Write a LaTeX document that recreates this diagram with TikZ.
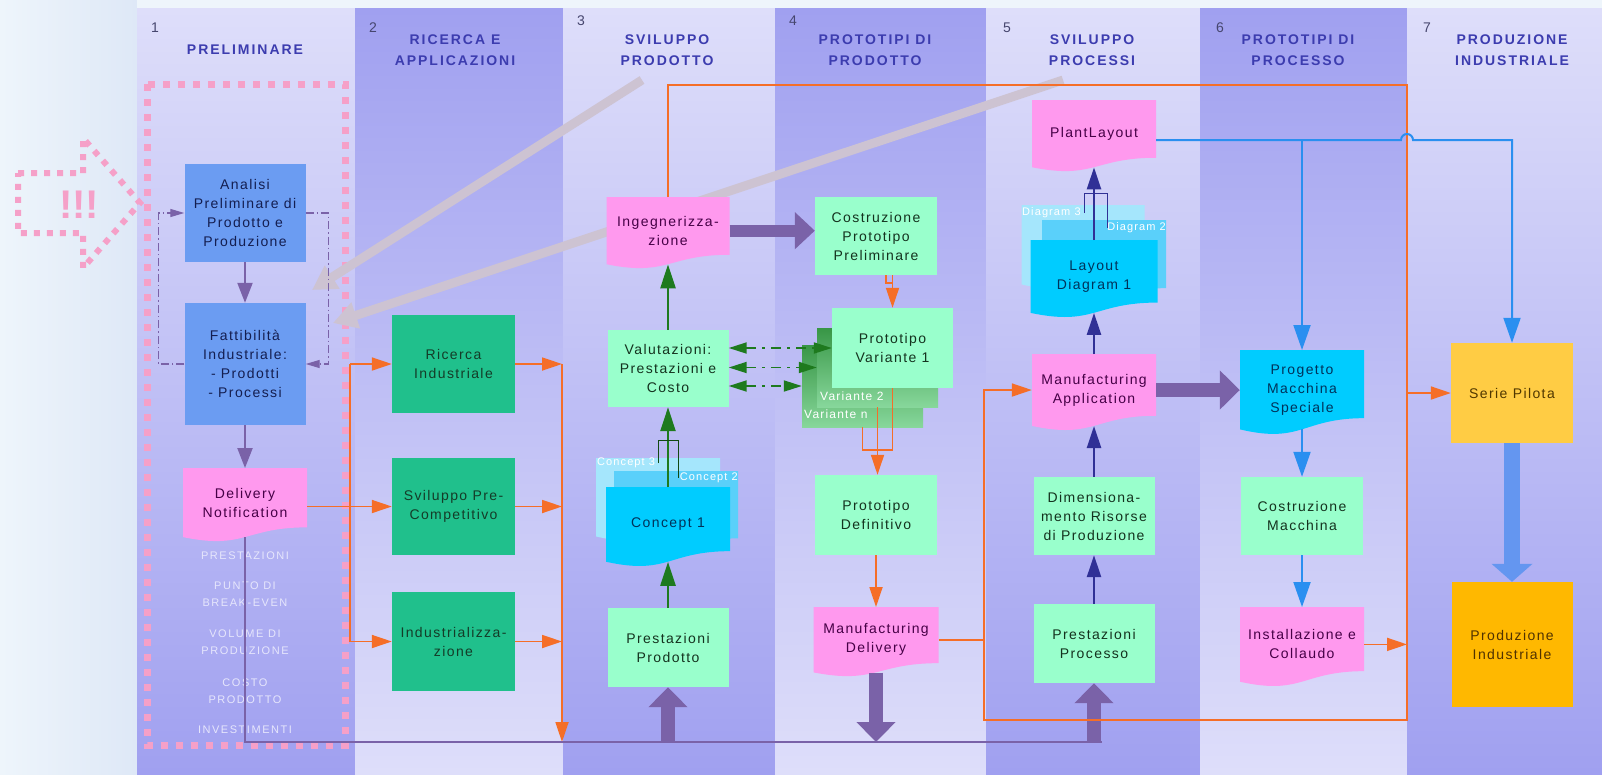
\documentclass[tikz,border=0pt]{standalone}
\usepackage{fontspec}
\setmainfont{Liberation Sans}
\newfontfamily\boxfont{Liberation Sans}[LetterSpace=10]
\newfontfamily\headfont{Liberation Sans}[LetterSpace=14]
\usepackage{tikz}
\usetikzlibrary{arrows.meta,calc}

\definecolor{lightcol}{RGB}{222,222,250}
\definecolor{darkcol}{RGB}{160,160,240}
\definecolor{marginL}{RGB}{238,245,251}
\definecolor{marginR}{RGB}{222,232,247}
\definecolor{headblue}{RGB}{60,60,175}
\definecolor{numgray}{RGB}{70,70,110}
\definecolor{bluefill}{RGB}{107,156,242}
\definecolor{greenfill}{RGB}{32,192,140}
\definecolor{mintfill}{RGB}{153,255,204}
\definecolor{pinkfill}{RGB}{255,153,238}
\definecolor{cyanfill}{RGB}{0,204,255}
\definecolor{yellowfill}{RGB}{255,204,68}
\definecolor{amberfill}{RGB}{255,184,0}
\definecolor{orngcol}{RGB}{245,110,40}
\definecolor{purpcol}{RGB}{122,98,168}
\definecolor{navycol}{RGB}{48,48,150}
\definecolor{skycol}{RGB}{42,143,240}
\definecolor{fatskycol}{RGB}{100,150,240}
\definecolor{leafcol}{RGB}{30,122,30}
\definecolor{pinkdot}{RGB}{245,160,200}
\definecolor{graycol}{RGB}{205,195,210}
\definecolor{listcol}{RGB}{230,230,252}

% document shape: name, centre x, top y, width, height, style, text
\newcommand\docnode[7]{%
  \fill[#6] (#2-#4/2,#3) -- (#2+#4/2,#3) -- (#2+#4/2,#3+0.802*#5)
    .. controls (#2,#3+0.802*#5) and (#2,#3+1.107*#5) .. (#2-#4/2,#3+0.934*#5) -- cycle;
  \node[#6, fill=none, stagebox, minimum width=#4pt, minimum height=0.93*#5pt, anchor=north] (#1) at (#2,#3) {#7};
}

\begin{document}
\begin{tikzpicture}[x=1pt, y=-1pt,
  stagebox/.style={align=center, inner sep=1pt, font=\boxfont\fontsize{14}{19}\selectfont},
  bluebox/.style={stagebox, fill=bluefill, text={rgb,255:red,20;green,30;blue,80}, minimum width=121pt},
  greenbox/.style={stagebox, fill=greenfill, text={rgb,255:red,20;green,60;blue,40}, minimum width=123pt},
  mintbox/.style={stagebox, fill=mintfill, text={rgb,255:red,20;green,50;blue,30}, minimum width=121pt},
  yellowbox/.style={stagebox, fill=yellowfill, text={rgb,255:red,80;green,55;blue,0}},
  amberbox/.style={stagebox, fill=amberfill, text={rgb,255:red,80;green,50;blue,0}},
  variantbox/.style={minimum width=121pt, top color={rgb,255:red,56;green,150;blue,70}, bottom color={rgb,255:red,135;green,215;blue,155}},
  pinkdoc/.style={fill=pinkfill, text={rgb,255:red,70;green,0;blue,70}},
  cyandoc/.style={fill=cyanfill, text={rgb,255:red,0;green,50;blue,90}},
  ghostdoc/.style={fill={rgb,255:red,165;green,230;blue,252}},
  ghostdocb/.style={fill={rgb,255:red,90;green,208;blue,250}},
  ghostlabel/.style={text=white, inner sep=0pt, font=\boxfont\fontsize{11}{13}\selectfont},
  numlabel/.style={text=numgray, font=\fontsize{14}{16}\selectfont},
  headlabel/.style={text=headblue, align=center, font=\headfont\bfseries\fontsize{14}{21}\selectfont},
  listlabel/.style={text=listcol, align=center, font=\headfont\fontsize{11}{17}\selectfont},
  pinkdots/.style={draw=pinkdot, line width=7pt, dash pattern=on 7pt off 8pt},
  orng/.style={draw=orngcol, line width=1.8pt},
  orngarrow/.style={orng, -{Triangle[length=20pt,width=13pt]}},
  purpline/.style={draw=purpcol, line width=1.6pt},
  purparrow/.style={draw=purpcol, line width=2.2pt, -{Triangle[length=20pt,width=15pt]}},
  ddline/.style={draw=purpcol, line width=1.2pt, dash pattern=on 8pt off 3pt on 1.5pt off 3pt, -{Triangle[length=14pt,width=8pt]}},
  fatpurp/.style={draw=purpcol, line width=14pt, -{Triangle[length=20pt,width=38pt]}},
  leafarrow/.style={draw=leafcol, line width=2.5pt, -{Triangle[length=24pt,width=15pt]}},
  leafthin/.style={draw=leafcol!60!black, line width=1pt},
  gdash/.style={draw=leafcol, line width=1.8pt, dash pattern=on 10pt off 6pt on 3pt off 6pt, {Triangle[length=18pt,width=11pt]}-{Triangle[length=18pt,width=11pt]}},
  navyarrow/.style={draw=navycol, line width=2.5pt, -{Triangle[length=22pt,width=14pt]}},
  navythin/.style={draw=navycol, line width=1pt},
  skyline/.style={draw=skycol, line width=2pt},
  skyarrow/.style={skyline, -{Triangle[length=25pt,width=17pt]}},
  fatsky/.style={draw=fatskycol, line width=16pt, -{Triangle[length=18pt,width=40pt]}},
  grayarrow/.style={draw=graycol, line width=9pt, -{Triangle[length=24pt,width=26pt]}}
]
\useasboundingbox (0,0) rectangle (1602,774);

% background
\shade[left color=marginL, right color=marginR] (0,0) rectangle (137,774);
\fill[marginL] (137,0) rectangle (1602,8);
\foreach \xa/\xb/\ctop/\cbot in {137/355/lightcol/darkcol, 355/563/darkcol/lightcol, 563/775/lightcol/darkcol,
  775/986/darkcol/lightcol, 986/1200/lightcol/darkcol, 1200/1407/darkcol/lightcol, 1407/1602/lightcol/darkcol}
  \shade[top color=\ctop, bottom color=\cbot] (\xa,8) rectangle (\xb,774);

% column headers
\foreach \n/\xn/\yn/\xc/\ttl in {1/155/28/245/PRELIMINARE, 2/373/28/455/{RICERCA E\\APPLICAZIONI},
  3/581/21/667/{SVILUPPO\\PRODOTTO}, 4/793/21/875/{PROTOTIPI DI\\PRODOTTO}, 5/1007/28/1092/{SVILUPPO\\PROCESSI},
  6/1220/28/1298/{PROTOTIPI DI\\PROCESSO}, 7/1427/28/1512/{PRODUZIONE\\INDUSTRIALE}}
{
  \node[numlabel] (num\n) at (\xn,\yn) {\n};
  \node[headlabel] (head\n) at (\xc,50) {\ttl};
}

% pink frame and pointer
\draw[pinkdots] (147,84) rectangle (345,745);
\draw[pinkdots, line width=6pt, dash pattern=on 6pt off 7pt] (18,173) -- (83,173) -- (83,138) -- (140,203)
  -- (83,268) -- (83,233) -- (18,233) -- cycle;
\node[text=pinkdot, font=\bfseries\fontsize{40}{40}\selectfont] (bang) at (79,205) {!!!};

% grey pointers
\coordinate (g1s) at (642,80);  \coordinate (g1e) at (312,290);
\coordinate (g2s) at (1063,80); \coordinate (g2e) at (333,323);
\draw[grayarrow] (g1s) -- (g1e);
\draw[grayarrow] (g2s) -- (g2e);

% column 1
\node[bluebox, minimum height=98pt] (anal) at (245,213) {Analisi\\Preliminare di\\Prodotto e\\Produzione};
\node[bluebox, minimum height=122pt] (fatt) at (245,364) {Fattibilità\\Industriale:\\- Prodotti\\- Processi};
\docnode{deliv}{245}{468}{124}{74}{pinkdoc}{Delivery\\Notification}
\node[listlabel] (lst1) at (245,556) {PRESTAZIONI};
\node[listlabel] (lst2) at (245,594.5) {PUNTO DI\\BREAK-EVEN};
\node[listlabel] (lst3) at (245,642.5) {VOLUME DI\\PRODUZIONE};
\node[listlabel] (lst4) at (245,691) {COSTO\\PRODOTTO};
\node[listlabel] (lst5) at (245,730) {INVESTIMENTI};

% column 2
\node[greenbox, minimum height=98pt] (ricer) at (453.5,364) {Ricerca\\Industriale};
\node[greenbox, minimum height=97pt] (svil) at (453.5,506.5) {Sviluppo Pre-\\Competitivo};
\node[greenbox, minimum height=99pt] (indus) at (453.5,641.5) {Industrializza-\\zione};

% column 3
\docnode{inge}{668}{197}{123}{72}{pinkdoc}{Ingegnerizza-\\zione}
\node[mintbox, minimum height=77pt] (valut) at (668,368.5) {Valutazioni:\\Prestazioni e\\Costo};
\docnode{conc3}{658}{458}{124}{84}{ghostdoc}{}
\docnode{conc2}{676}{471}{124}{84}{ghostdocb}{}
\docnode{conc1}{668}{487}{124}{80}{cyandoc}{Concept 1}
\node[ghostlabel, anchor=west] (lblc3) at (597,463) {Concept 3};
\node[ghostlabel, anchor=east] (lblc2) at (738,478) {Concept 2};
\node[mintbox, minimum height=79pt] (prestpr) at (668,647.5) {Prestazioni\\Prodotto};

% column 4
\node[mintbox, minimum width=122pt, minimum height=78pt] (costr) at (876,236) {Costruzione\\Prototipo\\Preliminare};
\node[variantbox, minimum height=82pt] (varn) at (862.5,386) {};
\node[variantbox, minimum height=79pt] (var2) at (877.5,367.5) {};
\node[mintbox, minimum height=80pt] (var1) at (892.5,348) {Prototipo\\Variante 1};
\node[ghostlabel, anchor=west, font=\boxfont\fontsize{12}{14}\selectfont] (lblv2) at (820,396) {Variante 2};
\node[ghostlabel, anchor=west, font=\boxfont\fontsize{12}{14}\selectfont] (lblvn) at (804,414) {Variante n};
\node[mintbox, minimum width=122pt, minimum height=80pt] (defin) at (876,515) {Prototipo\\Definitivo};
\docnode{mandel}{876}{607}{125}{70}{pinkdoc}{Manufacturing\\Delivery}

% column 5
\docnode{plant}{1094}{100}{124}{72}{pinkdoc}{PlantLayout}
\docnode{diag3}{1083}{205}{123}{85}{ghostdoc}{}
\docnode{diag2}{1104}{220}{124}{85}{ghostdocb}{}
\docnode{layout}{1094}{240}{127}{78}{cyandoc}{Layout\\Diagram 1}
\node[ghostlabel, anchor=west] (lbld3) at (1022,213) {Diagram 3};
\node[ghostlabel, anchor=east] (lbld2) at (1166,228) {Diagram 2};
\docnode{manapp}{1094}{354}{124}{77}{pinkdoc}{Manufacturing\\Application}
\node[mintbox, minimum height=78pt] (dimens) at (1094,516) {Dimensiona-\\mento Risorse\\di Produzione};
\node[mintbox, minimum height=79pt] (prestpc) at (1094,643.5) {Prestazioni\\Processo};

% column 6
\docnode{proget}{1302}{350}{124}{85}{cyandoc}{Progetto\\Macchina\\Speciale}
\node[mintbox, minimum width=122pt, minimum height=78pt] (costrm) at (1302,516) {Costruzione\\Macchina};
\docnode{instal}{1302}{607}{124}{80}{pinkdoc}{Installazione e\\Collaudo}

% column 7
\node[yellowbox, minimum width=122pt, minimum height=100pt] (serie) at (1512,393) {Serie Pilota};
\node[amberbox, minimum width=121pt, minimum height=125pt] (prodind) at (1512,644.5) {Produzione\\Industriale};

% connectors, column 1
\draw[purparrow] (anal.south) -- (fatt.north);
\draw[purparrow] (fatt.south) -- (deliv.north);
\draw[ddline] (fatt.west) -- ++(-26,0) |- (anal.west);
\draw[ddline] (anal.east) -- ++(23,0) |- (fatt.east);

% orange feeds round column 2
\coordinate (feed) at (350,0);
\coordinate (collect) at (562,0);
\coordinate (busL) at (245,742);
\coordinate (busR) at (1102,742);
\draw[orng] (ricer.west -| feed) -- (indus.west -| feed);
\draw[orngarrow] (ricer.west -| feed) -- (ricer.west);
\draw[orngarrow] (indus.west -| feed) -- (indus.west);
\draw[orngarrow] (svil.west -| deliv.east) -- (svil.west);
\draw[orngarrow] (ricer.east) -- (ricer.east -| collect);
\draw[orngarrow] (svil.east) -- (svil.east -| collect);
\draw[orngarrow] (indus.east) -- (indus.east -| collect);
\draw[orngarrow] (ricer.east -| collect) -- (collect |- busL);

% bottom bus
\draw[purpline] (deliv.south) -- (busL) -- (busR);
\draw[fatpurp] (prestpr.south |- busL) -- (prestpr.south);
\draw[fatpurp] (mandel.south) -- (mandel.south |- busL);
\draw[fatpurp] (prestpc.south |- busL) -- (prestpc.south);

% column 3
\draw[leafarrow] (prestpr.north) -- (conc1.south);
\draw[leafarrow] (conc1.north) -- (valut.south);
\draw[leafthin] (658,463) |- (678,440) -- (678,478);
\draw[leafarrow] (valut.north) -- (inge.south);
\draw[fatpurp, line width=12pt, -{Triangle[length=20pt,width=36pt]}] (inge.east) -- (inge.east -| costr.west);
\draw[gdash] (valut.east |- var1.west) -- (var1.west);
\draw[gdash] (valut.east |- var2.west) -- (var2.west);
\draw[gdash] (valut.east |- varn.west) -- (varn.west);

% column 4
\draw[orng] ($(costr.south)+(10,0)$) |- ($(costr.south -| var1.north)+(0,8)$);
\draw[orngarrow] (costr.south -| var1.north) -- (var1.north);
\draw[orng] (varn.south) -- ++(0,23) -| (var1.south);
\draw[orngarrow] (var2.south) -- (var2.south |- defin.north);
\draw[orngarrow] (defin.south) -- (mandel.north);

% long orange loop
\coordinate (looptop) at (1407,85);
\coordinate (loopbot) at (1407,720);
\coordinate (loopleft) at (984,720);
\draw[orngarrow] (inge.north) |- (looptop) -- (loopbot) -- (loopleft) |- (manapp.west);
\draw[orng] (mandel.east) -- (mandel.east -| loopleft);
\draw[orngarrow] (serie.west -| looptop) -- (serie.west);
\draw[orngarrow] (instal.east) -- (instal.east -| looptop);

% column 5
\draw[navyarrow] (prestpc.north) -- (dimens.south);
\draw[navyarrow] (dimens.north) -- (manapp.south);
\draw[navyarrow] (manapp.north) -- (layout.south);
\draw[navyarrow] (layout.north) -- (plant.south);
\draw[navythin] (1084,213) |- (1107,193) -- (1107,228);
\draw[fatpurp] (manapp.east) -- (manapp.east -| proget.west);

% blue links
\coordinate (bluerow) at (0,140);
\draw[skyarrow] (plant.east |- bluerow) -- (1401,140) arc[start angle=180, end angle=360, radius=6] -| (serie.north);
\draw[skyarrow] (proget.north |- bluerow) -- (proget.north);
\draw[skyarrow] (proget.south) -- (costrm.north);
\draw[skyarrow] (costrm.south) -- (instal.north);
\draw[fatsky] (serie.south) -- (prodind.north);
\end{tikzpicture}
\end{document}
